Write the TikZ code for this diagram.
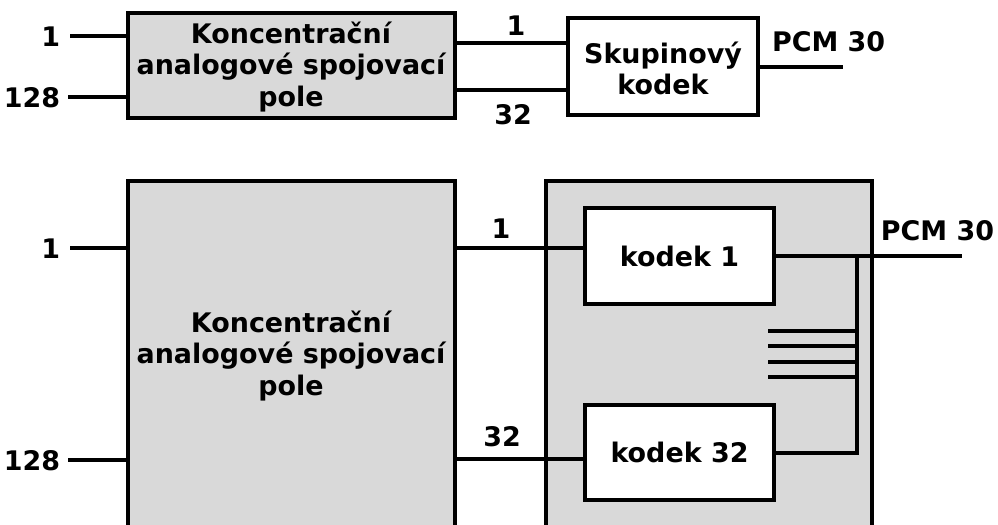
\documentclass[tikz,border=0pt]{standalone}
\usepackage{fontspec}
\setmainfont{DejaVu Sans}
\usetikzlibrary{fit}
\definecolor{boxgray}{RGB}{217,217,217}
\begin{document}
\begin{tikzpicture}[x=0.75pt,y=-0.75pt,line width=3pt,
  every node/.style={font=\bfseries\fontsize{20.2}{23.3}\selectfont,inner sep=0pt},
  plainbox/.style={draw,line width=3pt,fill=white,inner sep=0pt},
  graybox/.style={plainbox,fill=boxgray},
  txt/.style={align=center},
  wire/.style={line width=3pt},
  thinwire/.style={line width=2.4pt}]
\useasboundingbox (0,0) rectangle (998,524);
\clip (0,0) rectangle (998,524);

% ---------- top diagram ----------
\node[graybox,fit={(128,13) (455,118)}] (A) {};
\node[txt] (Atext) at (291,67) {Koncentrační\\analogové spojovací\\pole};
\node[plainbox,fit={(568,18) (758,115)}] (B) {};
\node[txt] (Btext) at (663,68.5) {Skupinový\\kodek};

\coordinate (a1) at (70,36);
\coordinate (a128) at (68,97);
\node[anchor=east] (la1) at (62,37) {1};
\node[anchor=east] (la128) at (62,98) {128};
\draw[wire] (a1) -- (A.west |- a1);
\draw[wire] (a128) -- (A.west |- a128);

\coordinate (y43) at (0,43);
\coordinate (y90) at (0,90);
\draw[wire] (A.east |- y43) -- (B.west |- y43);
\draw[wire] (A.east |- y90) -- (B.west |- y90);
\node (lb1) at (516,26) {1};
\node (lb32) at (513,115) {32};

\coordinate (pcm1) at (843,67);
\draw[wire] (B.east |- pcm1) -- (pcm1);
\node[anchor=west] (lpcm1) at (770,42) {PCM 30};

% ---------- bottom diagram ----------
\node[graybox,fit={(128,181) (455,560)}] (C) {};
\node[txt] (Ctext) at (291,356) {Koncentrační\\analogové spojovací\\pole};
\node[graybox,fit={(546,181) (872,560)}] (D) {};
\node[plainbox,fit={(585,208) (774,304)}] (K1) {};
\node (K1text) at (K1.center) {kodek 1};
\node[plainbox,fit={(585,405) (774,500)}] (K32) {};
\node (K32text) at (K32.center) {kodek 32};

\coordinate (c1) at (70,248);
\coordinate (c128) at (68,460);
\node[anchor=east] (lc1) at (62,249) {1};
\node[anchor=east] (lc128) at (62,461) {128};
\draw[wire] (c1) -- (C.west |- c1);
\draw[wire] (c128) -- (C.west |- c128);

\coordinate (y248) at (0,248);
\coordinate (y459) at (0,459);
\draw[wire] (C.east |- y248) -- (K1.west |- y248);
\draw[wire] (C.east |- y459) -- (K32.west |- y459);
\node (ld1) at (501,229) {1};
\node (ld32) at (502,437) {32};

\coordinate (pcm2) at (962,256);
\coordinate (bus) at (857,256);
\draw[wire] (K1.east |- pcm2) -- (pcm2);
\draw[wire] (bus) -- (bus |- K32.east) -- (K32.east);
\node[anchor=east] (lpcm2) at (996,231) {PCM 30};

\foreach \yy [count=\i] in {331,346,362,377} {
  \coordinate (s\i) at (768,\yy);
  \draw[thinwire] (s\i) -- (bus |- s\i);
}
\end{tikzpicture}
\end{document}
